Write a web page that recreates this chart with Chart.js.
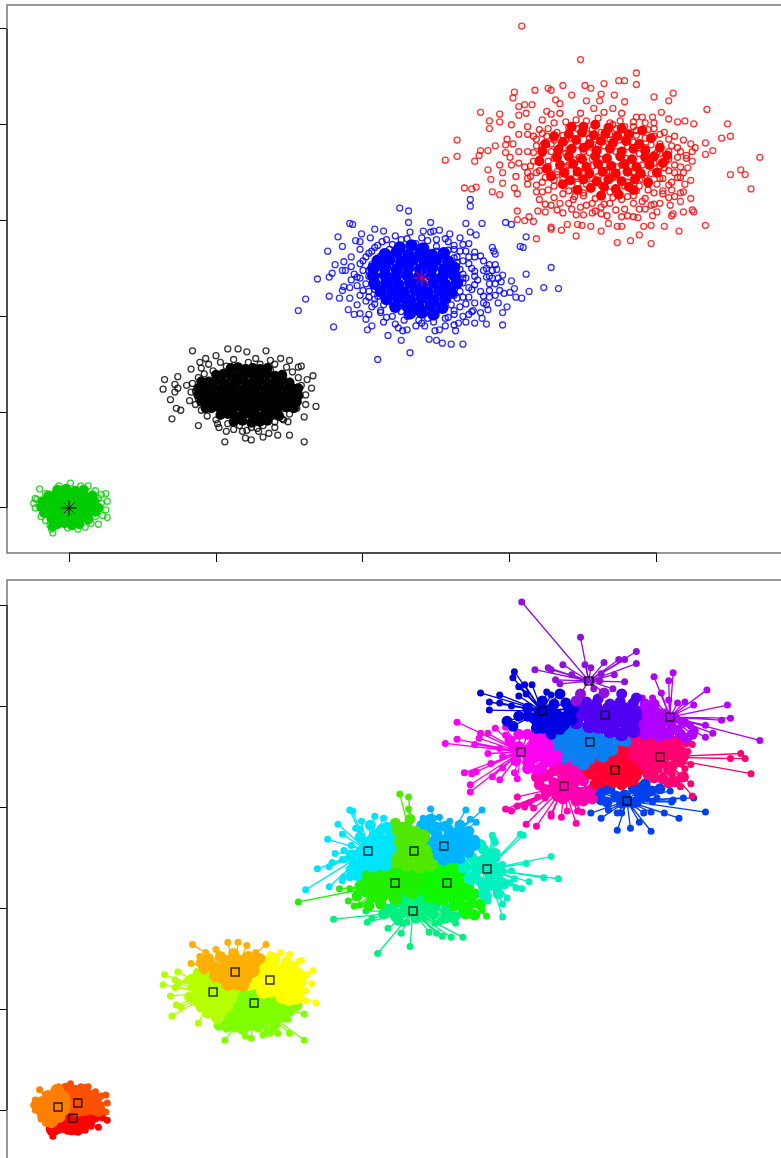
<!DOCTYPE html>
<html>
<head>
<meta charset="utf-8">
<title>Clusters</title>
<script src="https://cdn.jsdelivr.net/npm/chart.js@4"></script>
<style>
  html, body { margin: 0; padding: 0; background: #fff; overflow: hidden; }
  canvas { display: block; filter: blur(0.35px); }
</style>
</head>
<body>
<canvas id="top-chart" width="781" height="575"></canvas>
<canvas id="bottom-chart" width="781" height="583"></canvas>
<script>
'use strict';

// Tick positions, the labels are cut off in the picture
let xTickValues = [0, 100, 200, 300, 400];
let yTickValues = [0, 100, 200, 300, 400, 500];
let xRange = [-42.2, 484.4];
let yRangeTop = [-47, 525];
let yRangeBottom = [-47.5, 524.8];

// Points, x,y,x,y...
// Points = loose outer points, Mid = the crowded body, Core = where the rings overplot into solid colour

let redPoints = [
  308,503, 348,468, 386,454, 386,442, 374,446, 378,446, 364,443, 351,441, 355,438, 336,441,
  326,438, 328,436, 317,436, 303,434, 302,428, 342,431, 362,432, 371,431, 378,424, 398,429,
  411,433, 408,425, 434,416, 352,425, 361,425, 331,426, 334,422, 315,421, 310,421, 306,419,
  311,412, 306,410, 280,413, 293,411, 286,404, 293,403, 286,396, 301,400, 325,414, 328,411,
  357,417, 370,417, 403,413, 408,406, 397,408, 390,408, 419,404, 414,403, 425,401, 448,401,
  450,388, 444,386, 264,384, 264,367, 256,363, 276,362, 279,368, 280,373, 285,373, 290,378,
  297,379, 297,371, 433,381, 438,373, 433,369, 426,376, 423,380, 470,366, 450,348, 457,353,
  460,348, 464,333, 423,342, 424,362, 421,355, 269,334, 274,333, 277,335, 288,330, 293,327,
  295,339, 285,353, 293,358, 295,350, 301,358, 287,343, 303,334, 305,328, 305,310, 305,301,
  310,300, 313,304, 316,299, 319,310, 324,309, 328,293, 328,291, 335,290, 339,296, 346,296,
  345,284, 318,281, 349,295, 355,294, 362,289, 367,297, 373,294, 376,294, 373,277, 382,279,
  388,285, 396,276, 391,294, 396,295, 405,294, 415,289, 433,295, 387,303, 397,305, 400,309,
  398,317, 409,316, 410,305, 411,307, 418,309, 424,311, 425,309, 423,323, 416,320, 416,329,
  410,332, 404,331, 419,338
];
let redMid = [
  320,395, 330,402, 345,405, 360,407, 375,404, 392,402, 398,396, 405,392, 412,388, 418,384,
  316,388, 325,388, 332,392, 328,380, 318,378, 312,372, 322,370, 326,362, 316,362, 310,356,
  320,352, 327,350, 314,346, 322,340, 330,342, 326,332, 336,328, 344,332, 318,330, 334,318,
  343,322, 350,326, 356,318, 348,314, 362,314, 368,318, 376,322, 384,326, 390,320, 378,312,
  394,332, 400,338, 404,344, 408,352, 412,358, 418,350, 410,340, 404,328, 414,366, 408,372,
  402,380, 398,388, 392,376, 386,394, 378,398, 370,400, 362,392, 354,386, 346,396, 338,384,
  340,374, 347,366, 338,356, 332,348, 345,346, 352,338, 360,346, 368,352, 376,358, 384,350,
  392,344, 388,336, 380,340, 372,346, 364,358, 356,364, 350,372, 360,378, 368,384, 376,390,
  384,382, 392,368, 398,360, 402,370, 406,362, 414,376, 420,368, 424,372, 405,355, 414,345,
  302,380, 306,372, 300,366, 306,360, 312,350, 304,346, 312,338, 306,390, 298,385, 312,398,
  322,405, 334,412, 348,412, 364,413, 376,412, 386,408, 398,402, 345,306, 356,308, 366,305,
  376,304, 336,308, 328,316, 320,322, 402,318, 392,312, 384,304, 412,325, 418,330,
  338,403, 352,404, 368,402, 384,403, 326,396, 340,397, 356,395, 372,396, 384,398, 394,395,
  312,390, 322,391, 336,389, 352,391, 368,390, 386,389, 402,390, 318,385, 330,384, 342,386,
  358,385, 374,384, 392,386, 408,385, 322,378, 334,377, 346,379, 364,378, 380,377, 396,379,
  410,378, 316,371, 328,372, 338,370, 354,371, 372,372, 388,370, 400,371, 416,372, 320,364,
  330,365, 344,363, 362,364, 379,365, 396,363, 408,364, 420,365, 314,357, 326,356, 340,358,
  356,357, 373,356, 390,358, 402,357, 416,356, 318,350, 332,351, 350,349, 366,350, 384,351,
  396,349, 412,350, 312,344, 324,345, 336,343, 356,344, 370,345, 390,343, 402,344, 416,345,
  318,337, 330,336, 346,338, 362,337, 378,336, 394,338, 408,337, 322,330, 340,331, 350,329,
  368,330, 386,331, 398,329, 330,324, 344,325, 358,323, 370,324, 380,325, 392,323, 408,324,
  324,317, 340,318, 352,316, 364,317, 384,318, 396,316, 332,311, 342,312, 358,310, 372,311,
  388,312, 350,306, 362,307, 380,305
];
let redCore = [
  350,398, 358,400, 367,397,
  340,390, 349,392, 357,389, 365,391, 373,388, 381,390,
  336,382, 345,384, 354,380, 362,383, 370,381, 379,383, 388,380,
  333,374, 342,375, 350,376, 359,373, 368,375, 376,372, 384,375, 392,373,
  332,366, 340,367, 349,364, 358,367, 366,365, 375,367, 383,364, 392,366, 398,367,
  334,358, 343,359, 352,356, 360,359, 369,357, 378,359, 386,356, 395,358,
  337,350, 346,351, 354,349, 363,351, 372,349, 380,351, 389,349,
  341,342, 350,343, 359,341, 367,343, 376,341, 385,343,
  355,334, 364,335, 372,333, 381,335,
  362,326, 374,327,
  324,380, 322,372, 320,362, 325,354, 328,346, 336,338, 346,332, 384,332, 394,340, 400,350,
  404,360, 407,368, 402,376, 396,386, 330,388, 342,398, 376,396, 390,394
];

let bluePoints = [
  225,313, 231,310, 273,322, 273,315, 191,297, 193,296, 231,298, 246,298, 270,297, 281,297,
  297,298, 301,296, 208,291, 214,289, 199,286, 183,283, 241,289, 248,289, 252,290, 259,286,
  273,288, 277,285, 311,283, 307,273, 309,272, 195,279, 198,278, 186,273, 176,268, 181,254,
  187,257, 192,262, 288,272, 290,265, 289,268, 328,251, 311,244, 301,237, 323,230, 333,229,
  313,226, 303,229, 300,225, 304,220, 308,219, 169,239, 177,241, 179,245, 186,248, 188,248,
  161,218, 156,206, 177,221, 184,219, 187,231, 186,227, 191,230, 191,219, 190,207, 180,189,
  194,202, 198,203, 202,197, 206,190, 203,186, 210,155, 217,180, 226,175, 232,162, 245,176,
  250,175, 254,172, 260,171, 268,171, 263,185, 265,193, 295,191, 284,192, 285,207, 295,204,
  298,210, 281,198, 275,206, 227,185, 230,186, 252,186, 249,185, 242,190, 286,220, 293,227,
  295,243, 291,249, 284,250, 288,240
];
let blueMid = [
  205,282, 213,278, 222,284, 232,288, 240,282, 250,280, 258,278, 266,282, 272,276, 262,270,
  270,268, 276,262, 282,258, 268,258, 274,250, 282,248, 290,254, 270,240, 278,238, 286,234,
  294,236, 272,230, 280,226, 290,222, 268,220, 276,214, 284,212, 292,214, 266,210, 272,202,
  262,202, 256,198, 248,194, 238,196, 228,196, 220,200, 212,204, 206,210, 202,216, 198,222,
  196,232, 198,240, 200,248, 194,244, 192,252, 200,258, 204,266, 198,270, 208,272, 192,238,
  204,226, 208,218, 214,212, 196,212, 204,202, 214,194, 224,188, 236,190, 256,190, 270,194,
  236,276, 226,280, 246,288, 218,270, 264,262, 260,250, 268,244, 258,232, 262,222, 252,212,
  234,214, 218,232, 210,246, 222,244, 244,252, 230,262, 250,268, 280,204, 286,242, 296,224,
  216,280, 230,281, 244,279, 256,281, 210,274, 220,275, 250,273, 262,274, 268,275, 206,268,
  214,267, 258,269, 266,268, 276,267, 202,262, 212,263, 262,261, 272,262, 280,263, 198,255,
  206,254, 264,256, 272,255, 286,254, 204,248, 266,249, 276,247, 288,248, 196,241, 204,242,
  268,240, 276,242, 284,241, 292,240, 202,234, 268,235, 276,233, 290,234, 200,227, 208,228,
  266,226, 274,228, 286,227, 204,220, 210,221, 264,219, 272,220, 282,221, 208,213, 220,214,
  260,212, 270,213, 282,214, 212,206, 226,205, 250,207, 262,206, 274,205, 216,199, 230,200,
  244,198, 258,199, 268,200, 222,192, 240,193, 262,191, 276,193
];
let blueCore = [
  225,272, 233,274, 241,271,
  215,265, 223,267, 231,264, 239,266, 247,264, 255,266,
  210,258, 218,259, 226,257, 234,259, 242,257, 250,259, 258,257,
  207,250, 215,251, 223,249, 231,251, 239,249, 247,251, 255,249, 262,251,
  207,242, 215,243, 222,241, 230,243, 238,241, 246,243, 254,241, 262,243,
  208,234, 216,235, 224,233, 232,235, 240,233, 248,235, 256,233, 264,235,
  212,226, 220,227, 228,225, 236,227, 244,225, 252,227, 260,225,
  216,218, 224,219, 232,217, 240,219, 248,217, 256,219,
  222,210, 230,211, 238,209, 246,211, 254,209,
  232,203, 240,204, 248,202
];

let blackPoints = [
  84,164, 108,166, 115,166, 121,163, 134,164, 100,159, 93,156, 89,152, 83,145, 65,134,
  74,137, 64,124, 72,129, 74,125, 72,121, 69,113, 73,104, 76,102, 70,93, 88,86,
  80,128, 83,121, 106,69, 160,69, 120,73, 124,71, 132,74, 142,76, 150,76, 121,81,
  129,80, 107,80, 101,88, 160,95, 168,106, 161,108, 165,125, 166,138, 162,134, 158,148,
  156,147, 150,154, 144,156, 137,154, 127,156, 161,118, 157,117, 149,90, 145,93
];
let blackMid = [
  90,146, 95,150, 103,152, 112,155, 122,152, 130,150, 140,150, 148,147, 152,142, 156,136,
  158,128, 156,120, 152,112, 155,104, 150,98, 146,92, 140,90, 132,86, 124,84, 116,86,
  108,88, 100,92, 94,96, 90,102, 86,108, 82,112, 84,130, 86,122, 88,114, 88,136, 92,140,
  98,143, 107,148, 117,146, 127,146, 137,144, 146,138, 151,128, 150,116, 146,104, 138,96,
  118,80, 128,83, 112,82, 102,84, 140,84, 136,78
];
let blackCore = [
  110,146, 115,147, 120,145, 125,146, 130,145, 135,146,
  100,139, 105,140, 110,138, 115,139, 120,140, 125,138, 130,139, 135,140, 140,138, 145,139,
  95,132, 100,133, 105,131, 110,132, 115,133, 120,131, 125,132, 130,133, 135,131, 140,132, 145,133, 150,131,
  93,125, 98,126, 103,124, 108,125, 113,126, 118,124, 123,125, 128,126, 133,124, 138,125, 143,126, 148,124, 152,125,
  92,118, 97,119, 102,117, 107,118, 112,119, 117,117, 122,118, 127,119, 132,117, 137,118, 142,119, 147,117, 152,118,
  95,111, 100,112, 105,110, 110,111, 115,112, 120,110, 125,111, 130,112, 135,110, 140,111, 145,112, 150,110,
  97,104, 102,105, 107,103, 112,104, 117,105, 122,103, 127,104, 132,105, 137,103, 142,104, 148,105,
  103,97, 108,98, 113,96, 118,97, 123,98, 128,96, 133,97, 138,98, 143,96,
  112,90, 118,91, 124,89, 130,90, 135,91,
  88,125, 88,118, 90,111, 90,132, 93,104, 156,125, 156,118, 155,111, 153,104
];

let greenPoints = [
  -20,20, -23,10, -22,9, -7,23, 1,26, 8,23, 13,23, 18,18, 22,14, 25,15,
  26,7, 22,5, 25,-2, 26,-10, 20,-17, 15,-16, 6,-22, -1,-21, -11,-26, -12,-22,
  -13,-18, -19,-9, -23,0, -24,5, -16,15, 18,-9, 20,10, 23,-8, -16,-13, 11,-20
];
let greenCore = [
  -8,19, -2,20, 4,18, 10,19,
  -14,13, -9,14, -4,12, 1,13, 6,14, 11,12, 16,13,
  -18,7, -13,8, -8,6, -3,7, 2,8, 7,6, 12,7, 17,8,
  -19,1, -14,2, -9,0, -4,1, 1,2, 6,0, 11,1, 16,2, 20,0,
  -17,-5, -12,-4, -7,-6, -2,-5, 3,-4, 8,-6, 13,-5, 18,-4,
  -12,-11, -7,-10, -2,-12, 3,-11, 8,-10, 13,-12,
  -8,-17, -3,-16, 2,-18, 7,-17, -11,-19
];

// Means marked with a star in the top panel
let starX = [0, 240];
let starY = [0, 240];
let starColors = ['#000000', '#ff0000'];

// Cluster centres and colours of the bottom panel
let centerX = [-7.5, 6, 2.7, 113, 136.7, 98, 125.9, 203.4, 234.7, 255, 284.4, 221.8, 257.1, 234, 353.7, 321.8, 364.6, 408.8, 307.5, 354.4, 402, 371.4, 336.7, 379.6];
let centerY = [3, 7, -8, 136.6, 128.7, 116.8, 105.9, 256.4, 256.4, 261.4, 238.6, 224.8, 224.8, 197, 424.8, 395, 391, 389, 354.5, 364.4, 349.5, 336.6, 320.8, 306];
let centerColors = [
  '#ff8000', '#ff5000', '#ff0000',
  '#ffb000', '#ffff00', '#b4ff00', '#80ff00',
  '#00e5ff', '#50e800', '#00b4ff', '#00f0c0', '#20f000', '#10f800', '#00f080',
  '#9010e0', '#0000e0', '#5000f0', '#b000ff', '#ff00f0', '#0a80f0', '#ff0070', '#ff0030', '#ff00b0', '#0040f0'
];

// Helper Functions

function toPoints(flat) {
  let points = [];
  for (let i = 0; i < flat.length; i += 2) {
    points.push({ x: flat[i], y: flat[i + 1] });
  }
  return points;
}

function nearestCenter(point) {
  let best = 0;
  let bestDist = Infinity;
  for (let i = 0; i < centerX.length; i++) {
    let dx = point.x - centerX[i];
    let dy = point.y - centerY[i];
    let dist = dx * dx + dy * dy;
    if (dist < bestDist) {
      bestDist = dist;
      best = i;
    }
  }
  return best;
}

// grey box with the black R style axis line running first tick to last tick
let framePlugin = {
  id: 'frame',
  afterDraw(chart) {
    let ctx = chart.ctx;
    let area = chart.chartArea;
    let x = chart.scales.x;
    let y = chart.scales.y;
    ctx.save();
    ctx.strokeStyle = '#777';
    ctx.lineWidth = 1.5;
    ctx.beginPath();
    ctx.moveTo(area.right + 2, area.top);
    ctx.lineTo(area.left, area.top);
    ctx.lineTo(area.left, area.bottom);
    if (x.options.display) {
      ctx.lineTo(area.right + 2, area.bottom);
    }
    ctx.stroke();
    ctx.strokeStyle = '#000';
    ctx.lineWidth = 1;
    ctx.beginPath();
    ctx.moveTo(area.left, y.getPixelForValue(yTickValues[0]));
    ctx.lineTo(area.left, y.getPixelForValue(yTickValues[yTickValues.length - 1]));
    if (x.options.display) {
      ctx.moveTo(x.getPixelForValue(xTickValues[0]), area.bottom);
      ctx.lineTo(x.getPixelForValue(xTickValues[xTickValues.length - 1]), area.bottom);
    }
    ctx.stroke();
    ctx.restore();
  }
};

function chartOptions(yRange, showX) {
  return {
    responsive: false,
    animation: false,
    devicePixelRatio: 1,
    layout: { autoPadding: false, padding: { top: 5 } },
    plugins: { legend: { display: false }, tooltip: { enabled: false } },
    scales: {
      x: {
        type: 'linear',
        display: showX,
        min: xRange[0],
        max: xRange[1],
        afterBuildTicks(scale) { scale.ticks = xTickValues.map(v => ({ value: v })); },
        afterFit(scale) { scale.height = showX ? 22 : 0; },
        ticks: { display: false },
        border: { display: false },
        grid: { drawOnChartArea: false, color: '#000', tickLength: 9, tickColor: '#000' }
      },
      y: {
        type: 'linear',
        min: yRange[0],
        max: yRange[1],
        afterBuildTicks(scale) { scale.ticks = yTickValues.map(v => ({ value: v })); },
        afterFit(scale) { scale.width = 7; },
        ticks: { display: false },
        border: { display: false },
        grid: { drawOnChartArea: false, color: '#000', tickLength: 7, tickColor: '#000' }
      }
    }
  };
}

function ringSet(flat, color) {
  return {
    data: toPoints(flat),
    pointStyle: 'circle',
    pointRadius: 3,
    pointBorderWidth: 1.3,
    pointBorderColor: color,
    pointBackgroundColor: 'rgba(0,0,0,0)'
  };
}

function coreSet(flat, color, radius) {
  return {
    data: toPoints(flat),
    pointStyle: 'circle',
    pointRadius: radius,
    pointBorderWidth: 0,
    pointBackgroundColor: color
  };
}

// Chart Stuff

function renderTopChart() {
  let sets = [];
  sets.push({
    data: starX.map((x, i) => ({ x: x, y: starY[i] })),
    pointStyle: 'star',
    pointRadius: 8,
    pointBorderWidth: 1,
    pointBorderColor: starColors
  });
  sets.push(ringSet(greenPoints, 'rgba(0,205,0,0.8)'));
  sets.push(coreSet(greenCore, '#00cd00', 5));
  sets.push(ringSet(blackPoints, 'rgba(0,0,0,0.8)'));
  sets.push(ringSet(blackMid, 'rgba(0,0,0,0.8)'));
  sets.push(coreSet(blackCore, '#000000', 5));
  sets.push(coreSet(blueCore, '#0000ff', 6.2));
  sets.push(ringSet(blueMid, 'rgba(0,0,255,0.85)'));
  sets.push(ringSet(bluePoints, 'rgba(0,0,255,0.8)'));
  sets.push(coreSet(redCore, '#ff0000', 5));
  sets.push(ringSet(redMid, 'rgba(255,0,0,0.85)'));
  sets.push(ringSet(redPoints, 'rgba(255,0,0,0.8)'));

  new Chart(document.getElementById('top-chart'), {
    type: 'scatter',
    data: { datasets: sets },
    options: chartOptions(yRangeTop, true),
    plugins: [framePlugin]
  });
}

function renderBottomChart() {
  let looseLists = [redPoints, bluePoints, blackPoints, greenPoints];
  let midLists = [redMid, blueMid, blackMid];
  let coreLists = [redCore, blueCore, blackCore, greenCore];
  let stars = centerX.map((x, i) => [{ x: x, y: centerY[i], size: 0 }]);

  function addMembers(lists, size) {
    for (let i = 0; i < lists.length; i++) {
      let points = toPoints(lists[i]);
      for (let j = 0; j < points.length; j++) {
        let k = nearestCenter(points[j]);
        // every member is joined to its centre: centre, point, centre, point...
        points[j].size = size;
        stars[k].push(points[j], stars[k][0]);
      }
    }
  }
  addMembers(looseLists, 3.5);
  addMembers(midLists, 5.5);
  addMembers(coreLists, 7);

  let sets = [{
    data: centerX.map((x, i) => ({ x: x, y: centerY[i] })),
    pointStyle: 'rect',
    pointRadius: 5.6,
    pointBorderWidth: 1.5,
    pointBorderColor: 'rgba(0,0,0,0.8)',
    pointBackgroundColor: 'rgba(0,0,0,0)'
  }];
  for (let i = 0; i < stars.length; i++) {
    sets.push({
      data: stars[i],
      showLine: true,
      tension: 0,
      borderWidth: 1.3,
      borderColor: centerColors[i],
      pointStyle: 'circle',
      pointRadius: ctx => ctx.raw.size,
      pointBorderWidth: 0,
      pointBackgroundColor: centerColors[i]
    });
  }

  new Chart(document.getElementById('bottom-chart'), {
    type: 'scatter',
    data: { datasets: sets },
    options: chartOptions(yRangeBottom, false),
    plugins: [framePlugin]
  });
}

renderTopChart();
renderBottomChart();
</script>
</body>
</html>
